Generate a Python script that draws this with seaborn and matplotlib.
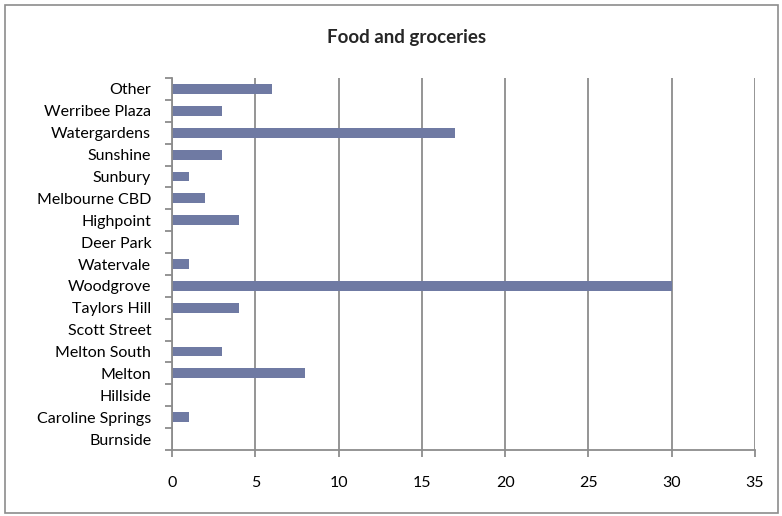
import matplotlib
matplotlib.use("Agg")
import matplotlib.pyplot as plt
import seaborn as sns
import pandas as pd
import numpy as np
from matplotlib.patches import Rectangle

categories = ["Other", "Werribee Plaza", "Watergardens", "Sunshine", "Sunbury",
              "Melbourne CBD", "Highpoint", "Deer Park", "Watervale", "Woodgrove",
              "Taylors Hill", "Scott Street", "Melton South", "Melton", "Hillside",
              "Caroline Springs", "Burnside"]
values = [6, 3, 17, 3, 1, 2, 4, 0, 1, 30, 4, 0, 3, 8, 0, 1, 0]
x_ticks = [0, 5, 10, 15, 20, 25, 30, 35]
title = "Food and groceries"

sns.set_theme(style="white")
plt.rcParams['font.family'] = ['Lato', 'DejaVu Sans']

df = pd.DataFrame({"category": categories, "value": values})

fig = plt.figure(figsize=(7.82, 5.16), dpi=100)
ax = fig.add_axes([172/782, 1 - 450/516, (755-172)/782, (450-78)/516])

sns.barplot(data=df, x="value", y="category", orient="h", color="#6f7aa3",
            saturation=1, width=0.45, ax=ax, order=categories, linewidth=0)

ax.set_xlim(0, 35)
ax.set_ylim(len(categories) - 0.5, -0.5)
ax.set_xticks(x_ticks)
ax.set_xticklabels([str(t) for t in x_ticks], fontsize=11.5, color="#000000")
ax.set_xlabel("")
ax.set_ylabel("")
ax.xaxis.grid(True, color="#8c8c8c", linewidth=1.3)
ax.set_axisbelow(True)
for s in ["top", "right"]:
    ax.spines[s].set_visible(False)
for s in ["left", "bottom"]:
    ax.spines[s].set_color("#8c8c8c")
    ax.spines[s].set_linewidth(1.3)

ax.tick_params(axis="x", which="major", direction="out", length=5, width=1.3,
               color="#8c8c8c", pad=14, bottom=True)
ax.tick_params(axis="y", which="major", length=0, pad=15, labelsize=11.5, labelcolor="#000000")
ax.set_yticks(np.arange(-0.5, len(categories), 1.0), minor=True)
ax.tick_params(axis="y", which="minor", direction="out", length=5, width=1.3,
               color="#8c8c8c", left=True)

fig.text(407/782, 1 - 37/516, title, ha="center", va="center",
         fontsize=13.5, fontweight="bold")

fig.patches.append(Rectangle((5/782, 3/516), 773/782, 508/516, transform=fig.transFigure,
                             fill=False, edgecolor="#8c8c8c", linewidth=1.2))

fig.savefig("out.png", dpi=100)
